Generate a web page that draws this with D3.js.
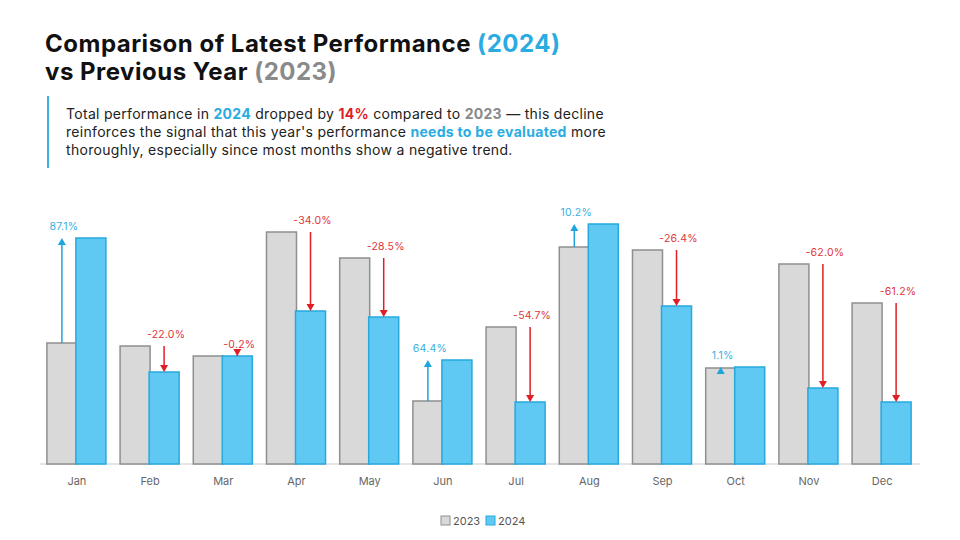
<!DOCTYPE html>
<html>
<head>
<meta charset="utf-8">
<script src="https://cdn.jsdelivr.net/npm/d3@7"></script>
<style>
  body { margin: 0; background: #fff; }
  svg text { font-family: Inter, "Noto Sans", sans-serif; }
</style>
</head>
<body>
<svg id="chart" width="960" height="540"></svg>
<script>
const months = ["Jan", "Feb", "Mar", "Apr", "May", "Jun", "Jul", "Aug", "Sep", "Oct", "Nov", "Dec"];
const values2023 = [121, 118, 108, 232, 206, 63, 137, 217, 214, 96, 200, 161];
const values2024 = [226, 92, 108, 153, 147, 104, 62, 240, 158, 97, 76, 62];
const changes = [87.1, -22.0, -0.2, -34.0, -28.5, 64.4, -54.7, 10.2, -26.4, 1.1, -62.0, -61.2];
const years = ["2023", "2024"];

const data = months.map((m, i) => ({ month: m, v23: values2023[i], v24: values2024[i], change: changes[i] }));

const svg = d3.select("#chart");

// title
const title = svg.append("text").attr("x", 45).attr("y", 52)
    .attr("font-size", 24).attr("font-weight", 700).attr("letter-spacing", 0.5).attr("fill", "#111");
title.append("tspan").text("Comparison of Latest Performance ");
title.append("tspan").attr("fill", "#2aace2").text("(2024)");
const title2 = svg.append("text").attr("x", 45).attr("y", 80)
    .attr("font-size", 24).attr("font-weight", 700).attr("letter-spacing", 0.5).attr("fill", "#111");
title2.append("tspan").text("vs Previous Year ");
title2.append("tspan").attr("fill", "#8a8a8a").text("(2023)");

// note with side bar
svg.append("line").attr("x1", 48).attr("x2", 48).attr("y1", 96).attr("y2", 168)
    .attr("stroke", "#3db3e3").attr("stroke-width", 2);

const noteLines = [
    [["Total performance in ", null], ["2024", "#2aace2"], [" dropped by ", null], ["14%", "#e01e26"],
     [" compared to ", null], ["2023", "#8a8a8a"], [" \u2014 this decline", null]],
    [["reinforces the signal that this year's performance ", null], ["needs to be evaluated", "#2aace2"], [" more", null]],
    [["thoroughly, especially since most months show a negative trend.", null]]
];
noteLines.forEach((parts, li) => {
    const t = svg.append("text").attr("x", 66).attr("y", 119 + li * 18)
        .attr("font-size", 14).attr("letter-spacing", 0.3).attr("fill", "#222");
    parts.forEach(p => {
        t.append("tspan").text(p[0])
            .attr("fill", p[1] || "#222")
            .attr("font-weight", p[1] ? 700 : 400);
    });
});

// scales
const x = d3.scaleBand().domain(months).range([40, 919]).paddingInner(0.18).paddingOuter(0.094);
const xs = d3.scaleBand().domain(years).range([0, x.bandwidth()]);
const y = d3.scaleLinear().domain([0, 250]).range([464, 214]);

const red = "#e01e26", blue = "#1ea5db";

// baseline
svg.append("line").attr("x1", 40).attr("x2", 920).attr("y1", y(0)).attr("y2", y(0))
    .attr("stroke", "#dcdcdc").attr("stroke-width", 1.5);

const g = svg.append("g").selectAll("g").data(data).enter().append("g")
    .attr("transform", d => `translate(${x(d.month)},0)`);

g.append("rect")
    .attr("x", xs("2023")).attr("width", xs.bandwidth())
    .attr("y", d => y(d.v23)).attr("height", d => y(0) - y(d.v23))
    .attr("fill", "#d9d9d9").attr("stroke", "#8f8f8f").attr("stroke-width", 1.5);

g.append("rect")
    .attr("x", xs("2024") - 1).attr("width", xs.bandwidth())
    .attr("y", d => y(d.v24)).attr("height", d => y(0) - y(d.v24))
    .attr("fill", "#5fc9f3").attr("stroke", "#27a9de").attr("stroke-width", 1.5);

// change arrows
g.each(function(d) {
    const el = d3.select(this);
    const up = d.change >= 0;
    const col = up ? blue : red;
    const ax = up ? xs("2023") + xs.bandwidth() / 2 : xs("2024") - 1 + xs.bandwidth() / 2;
    const y0 = y(d.v23), y1 = y(d.v24);
    el.append("line").attr("x1", ax).attr("x2", ax).attr("y1", y0).attr("y2", up ? y1 + 6 : y1 - 6)
        .attr("stroke", col).attr("stroke-width", 1.5);
    const hd = up ? 7 : -7;
    el.append("path")
        .attr("d", `M${ax},${y1}L${ax - 4},${y1 + hd}L${ax + 4},${y1 + hd}Z`)
        .attr("fill", col);
    const ly = (up ? Math.min(y0, y1) : y0) - 8;
    el.append("text").attr("x", ax + 2).attr("y", ly)
        .attr("text-anchor", "middle").attr("font-size", 10.5).attr("letter-spacing", 0.2)
        .attr("fill", up ? "#3ab0de" : "#e0353b")
        .text(d.change.toFixed(1) + "%");
});

// x axis labels
svg.append("g").selectAll("text").data(months).enter().append("text")
    .attr("x", d => x(d) + x.bandwidth() / 2).attr("y", 485)
    .attr("text-anchor", "middle").attr("font-size", 11).attr("fill", "#666")
    .text(d => d);

// legend
const legend = [{ k: "2023", fill: "#d9d9d9", stroke: "#8f8f8f", x: 441 }, { k: "2024", fill: "#5fc9f3", stroke: "#27a9de", x: 486 }];
const lg = svg.append("g").selectAll("g").data(legend).enter().append("g")
    .attr("transform", d => `translate(${d.x},516)`);
lg.append("rect").attr("width", 9).attr("height", 9).attr("fill", d => d.fill)
    .attr("stroke", d => d.stroke).attr("stroke-width", 1);
lg.append("text").attr("x", 12).attr("y", 9).attr("font-size", 11).attr("fill", "#555").text(d => d.k);
</script>
</body>
</html>
